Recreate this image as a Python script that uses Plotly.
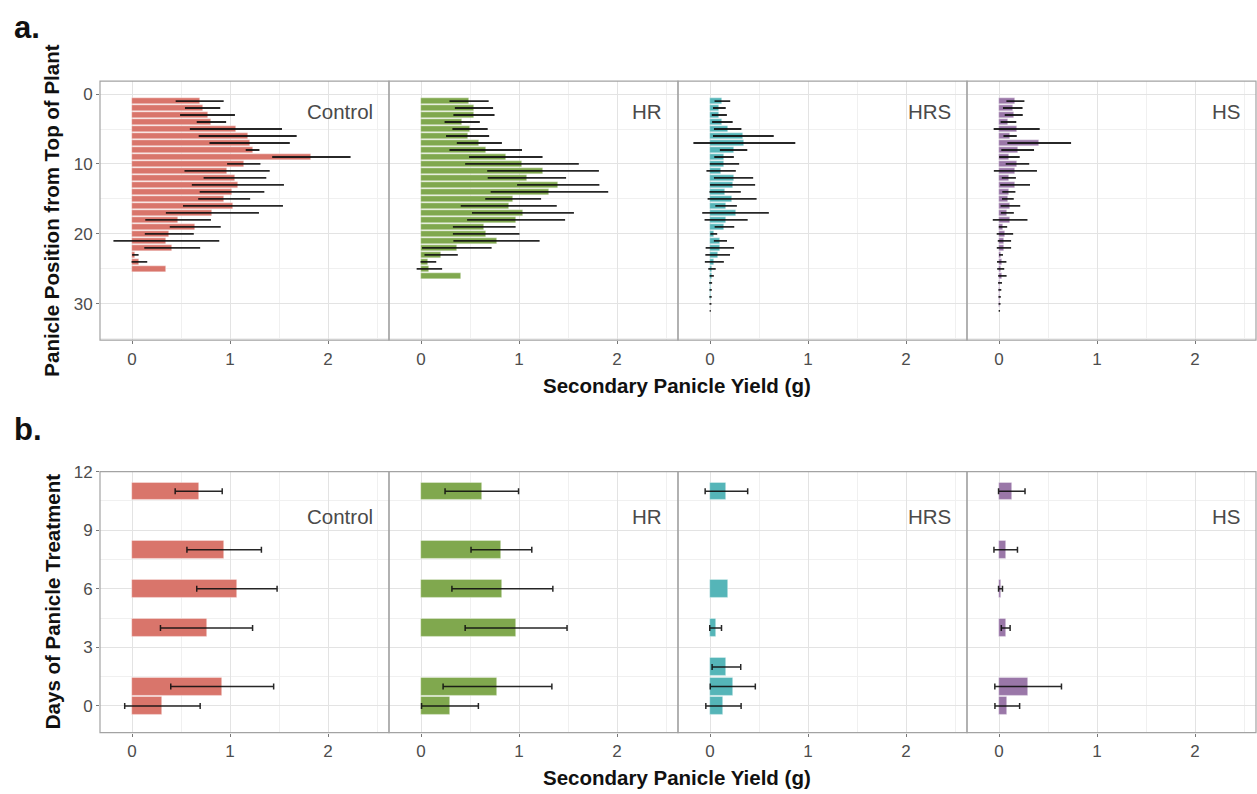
import plotly.graph_objects as go

# ---------------- data ----------------
treatments = ["Control", "HR", "HRS", "HS"]
colors = {"Control": "#D9756B", "HR": "#80A84E", "HRS": "#55B5B8", "HS": "#9A77A8"}

# (a) secondary panicle yield by panicle position (mean, sd)
pos_control = list(range(1, 26))
yield_control = [0.69, 0.72, 0.77, 0.81, 1.06, 1.18, 1.20, 1.23, 1.83, 1.14,
                 0.97, 1.05, 1.08, 1.02, 0.94, 1.03, 0.82, 0.47, 0.645, 0.38,
                 0.35, 0.41, 0.034, 0.075, 0.35]
sd_control = [0.245, 0.18, 0.28, 0.15, 0.47, 0.50, 0.41, 0.07, 0.40, 0.17,
              0.435, 0.32, 0.47, 0.33, 0.265, 0.51, 0.475, 0.335, 0.26, 0.25,
              0.54, 0.285, 0.033, 0.08, None]

pos_hr = list(range(1, 28))
yield_hr = [0.49, 0.54, 0.54, 0.42, 0.50, 0.475, 0.595, 0.66, 0.865, 1.03,
            1.245, 1.08, 1.40, 1.31, 0.94, 0.895, 1.04, 0.97, 0.645, 0.665,
            0.77, 0.365, 0.205, 0.075, 0.085, 0.405, 0.004]
sd_hr = [0.20, 0.195, 0.21, 0.18, 0.18, 0.22, 0.23, 0.37, 0.375, 0.58,
         0.57, 0.40, 0.42, 0.60, 0.285, 0.49, 0.52, 0.50, 0.32, 0.34,
         0.44, 0.355, 0.17, 0.08, 0.13, None, None]

pos_hrs = list(range(1, 32))
yield_hrs = [0.126, 0.095, 0.095, 0.126, 0.18, 0.34, 0.35, 0.24, 0.143, 0.147,
             0.113, 0.24, 0.23, 0.154, 0.225, 0.164, 0.26, 0.164, 0.147, 0.038,
             0.106, 0.10, 0.078, 0.044, 0.02, 0.017, 0.006, 0.006, 0.005, 0.004,
             0.002]
sd_hrs = [0.08, 0.065, 0.077, 0.105, 0.14, 0.31, 0.52, 0.14, 0.10, 0.15,
          0.15, 0.20, 0.23, 0.16, 0.25, 0.11, 0.34, 0.22, 0.10, 0.035,
          0.067, 0.145, 0.126, 0.097, 0.038, 0.022, 0.015, 0.012, 0.012, 0.01,
          0.006]

pos_hs = list(range(1, 32))
yield_hs = [0.167, 0.14, 0.15, 0.096, 0.18, 0.113, 0.41, 0.19, 0.106, 0.188,
            0.167, 0.10, 0.164, 0.10, 0.09, 0.116, 0.085, 0.113, 0.04, 0.06,
            0.055, 0.05, 0.02, 0.027, 0.017, 0.034, 0.01, 0.008, 0.006, 0.005,
            0.003]
sd_hs = [0.092, 0.10, 0.092, 0.08, 0.235, 0.068, 0.325, 0.167, 0.105, 0.12,
         0.22, 0.072, 0.152, 0.067, 0.06, 0.10, 0.066, 0.177, 0.043, 0.084,
         0.068, 0.073, 0.02, 0.048, 0.036, 0.043, 0.02, 0.015, 0.012, 0.01,
         0.007]

# (b) secondary panicle yield by days of panicle treatment (mean, sd)
days_control = [11, 8, 6, 4, 1, 0]
dyield_control = [0.68, 0.94, 1.07, 0.76, 0.92, 0.31]
dsd_control = [0.24, 0.38, 0.41, 0.47, 0.525, 0.385]

days_hr = [11, 8, 6, 4, 1, 0]
dyield_hr = [0.62, 0.82, 0.83, 0.97, 0.78, 0.295]
dsd_hr = [0.375, 0.31, 0.515, 0.52, 0.555, 0.29]

days_hrs = [11, 6, 4, 2, 1, 0]
dyield_hrs = [0.167, 0.18, 0.057, 0.167, 0.232, 0.137]
dsd_hrs = [0.217, None, 0.06, 0.146, 0.23, 0.18]

days_hs = [11, 8, 6, 4, 1, 0]
dyield_hs = [0.13, 0.068, 0.015, 0.068, 0.297, 0.084]
dsd_hs = [0.135, 0.12, 0.02, 0.045, 0.34, 0.126]

panel_a = {
    "Control": (pos_control, yield_control, sd_control),
    "HR": (pos_hr, yield_hr, sd_hr),
    "HRS": (pos_hrs, yield_hrs, sd_hrs),
    "HS": (pos_hs, yield_hs, sd_hs),
}
panel_b = {
    "Control": (days_control, dyield_control, dsd_control),
    "HR": (days_hr, dyield_hr, dsd_hr),
    "HRS": (days_hrs, dyield_hrs, dsd_hrs),
    "HS": (days_hs, dyield_hs, dsd_hs),
}

# ---------------- layout geometry (pixels) ----------------
W, H = 1257, 794
facet_edges = [100, 389, 678, 967, 1256]
row_a = (73, 335)
row_b = (468, 732)
x_range = [-0.327, 2.622]
ya_range = [35.2, -1.84]
yb_range = [-1.37, 12.0]


def px(x):
    return x / W


def py(y):
    return 1 - y / H


FONT = "Liberation Sans, Arial, Helvetica, sans-serif"
GRID = "#e3e3e3"
GRID_MINOR = "#f0f0f0"
TICK_FONT = dict(family=FONT, size=17, color="#4d4d4d")
TITLE_FONT = dict(family=FONT, size=20.5, color="#111111")
ERR_COLOR = "rgba(15,15,15,0.9)"

fig = go.Figure()
layout = {}

for r, (data, (top, bottom), yrange, ymaj, ymin, cap, thick) in enumerate([
    (panel_a, row_a, ya_range, 10, 5, 0, 1.8),
    (panel_b, row_b, yb_range, 3, 1.5, 3, 1.5),
]):
    for c, t in enumerate(treatments):
        idx = r * 4 + c + 1
        xname = "x" if idx == 1 else f"x{idx}"
        yname = "y" if idx == 1 else f"y{idx}"
        ypos, vals, errs = data[t]
        fig.add_trace(go.Bar(
            x=vals, y=ypos, orientation="h", width=0.9,
            marker=dict(color=colors[t], line=dict(color="rgba(255,255,255,0.6)", width=0.6)),
            xaxis=xname, yaxis=yname, showlegend=False, hoverinfo="x+y",
        ))
        # error bars (mean ± sd), only where an sd exists
        ey = [p for p, e in zip(ypos, errs) if e is not None]
        ex = [v for v, e in zip(vals, errs) if e is not None]
        ee = [e for e in errs if e is not None]
        fig.add_trace(go.Scatter(
            x=ex, y=ey, mode="markers", marker=dict(size=0.1, color="rgba(0,0,0,0)"),
            error_x=dict(type="data", array=ee, visible=True, thickness=thick,
                         width=cap, color=ERR_COLOR),
            xaxis=xname, yaxis=yname, showlegend=False, hoverinfo="skip",
        ))
        xk = "xaxis" if idx == 1 else f"xaxis{idx}"
        yk = "yaxis" if idx == 1 else f"yaxis{idx}"
        layout[xk] = dict(
            domain=[px(facet_edges[c]), px(facet_edges[c + 1])],
            anchor=yname, range=x_range, tickvals=[0, 1, 2],
            showgrid=True, gridcolor=GRID, gridwidth=1,
            minor=dict(dtick=0.5, tick0=0, showgrid=True, gridcolor=GRID_MINOR, gridwidth=1),
            zeroline=False, ticks="outside", ticklen=3, tickcolor="#777777",
            tickfont=TICK_FONT, showline=False, fixedrange=True,
        )
        layout[yk] = dict(
            domain=[py(bottom), py(top)],
            anchor=xname, range=yrange, dtick=ymaj, tick0=0,
            showgrid=True, gridcolor=GRID, gridwidth=1,
            minor=dict(dtick=ymin, tick0=0, showgrid=True, gridcolor=GRID_MINOR, gridwidth=1),
            zeroline=False, showticklabels=(c == 0),
            ticks="outside" if c == 0 else "", ticklen=3, tickcolor="#777777",
            tickfont=TICK_FONT, showline=False, fixedrange=True,
        )

shapes = []
annotations = []
for (top, bottom) in (row_a, row_b):
    for c in range(4):
        shapes.append(dict(
            type="rect", xref="paper", yref="paper",
            x0=px(facet_edges[c]), x1=px(facet_edges[c + 1]),
            y0=py(bottom), y1=py(top),
            line=dict(color="#a3a3a3", width=1.2), layer="above",
        ))

# facet labels inside each panel
for ylab in (104, 513):
    for c, t in enumerate(treatments):
        annotations.append(dict(
            text=t, xref="paper", yref="paper",
            x=px(facet_edges[c + 1] - 14), y=py(ylab),
            xanchor="right", yanchor="middle", showarrow=False,
            font=dict(family=FONT, size=20.5, color="#4a4a4a"),
        ))

# axis titles
for ycen, text in ((204, "Panicle Position from Top of Plant"), (600, "Days of Panicle Treatment")):
    annotations.append(dict(
        text=f"<b>{text}</b>", xref="paper", yref="paper",
        x=px(52), y=py(ycen), textangle=-90, showarrow=False,
        xanchor="center", yanchor="middle", font=TITLE_FONT,
    ))
for ycen in (381, 777):
    annotations.append(dict(
        text="<b>Secondary Panicle Yield (g)</b>", xref="paper", yref="paper",
        x=px(677), y=py(ycen), showarrow=False,
        xanchor="center", yanchor="middle", font=TITLE_FONT,
    ))

# panel letters
for ycen, text in ((19, "a."), (425, "b.")):
    annotations.append(dict(
        text=f"<b>{text}</b>", xref="paper", yref="paper",
        x=px(12), y=py(ycen), showarrow=False,
        xanchor="left", yanchor="middle",
        font=dict(family=FONT, size=31, color="#111111"),
    ))

fig.update_layout(
    width=W, height=H,
    margin=dict(l=0, r=0, t=0, b=0),
    paper_bgcolor="white", plot_bgcolor="white",
    bargap=0, barmode="overlay",
    shapes=shapes, annotations=annotations,
    **layout,
)

fig.write_html("out.html")
